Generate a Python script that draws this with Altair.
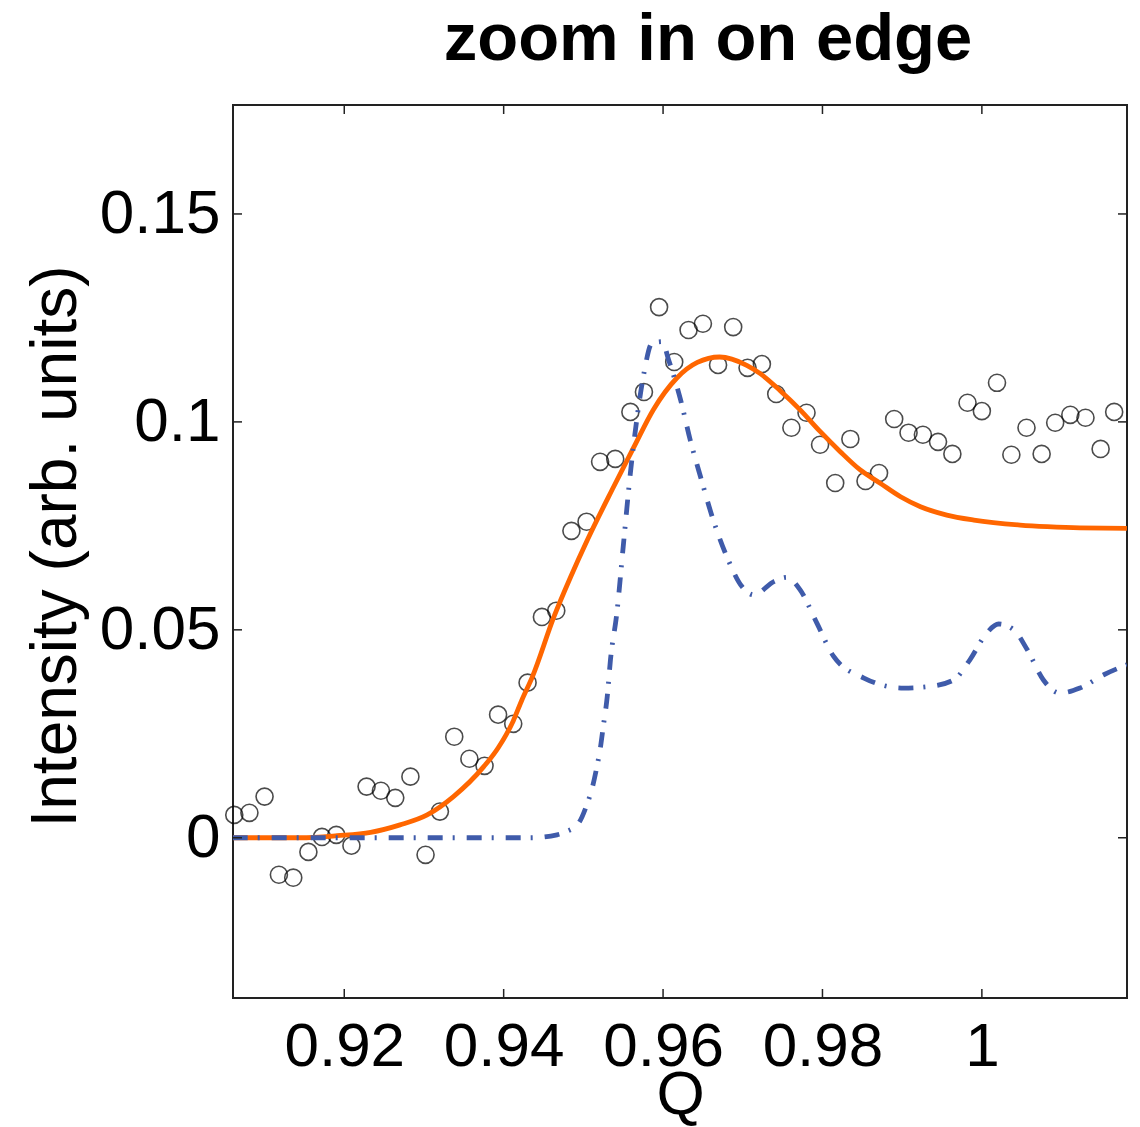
import altair as alt
import pandas as pd

# measured data (open circles)
q_data = [0.9062, 0.9081, 0.9100, 0.9118, 0.9136, 0.9155, 0.9172, 0.9190, 0.9209, 0.9228,
          0.9246, 0.9264, 0.9283, 0.9302, 0.9320, 0.9338, 0.9357, 0.9376, 0.9393, 0.9412,
          0.9430, 0.9448, 0.9466, 0.9485, 0.9504, 0.9521, 0.9540, 0.9559, 0.9576, 0.9595,
          0.9614, 0.9632, 0.9650, 0.9669, 0.9688, 0.9706, 0.9724, 0.9742, 0.9761, 0.9780,
          0.9797, 0.9816, 0.9835, 0.9854, 0.9871, 0.9890, 0.9908, 0.9926, 0.9945, 0.9963,
          0.9982, 1.0000, 1.0019, 1.0037, 1.0056, 1.0075, 1.0092, 1.0111, 1.0130, 1.0149,
          1.0166]
i_data = [0.0055, 0.0060, 0.0099, -0.0089, -0.0096, -0.0034, 0.0002, 0.0007, -0.0019, 0.0123,
          0.0113, 0.0096, 0.0147, -0.0041, 0.0063, 0.0243, 0.0190, 0.0173, 0.0296, 0.0274,
          0.0373, 0.0531, 0.0546, 0.0738, 0.0760, 0.0904, 0.0911, 0.1024, 0.1072, 0.1276,
          0.1144, 0.1221, 0.1236, 0.1137, 0.1228, 0.1130, 0.1139, 0.1067, 0.0986, 0.1022,
          0.0945, 0.0853, 0.0959, 0.0858, 0.0877, 0.1007, 0.0974, 0.0969, 0.0952, 0.0923,
          0.1046, 0.1026, 0.1094, 0.0921, 0.0986, 0.0923, 0.0998, 0.1017, 0.1010, 0.0935,
          0.1024]

# fitted curve (orange solid)
fit_q = [0.9060, 0.9145, 0.9191, 0.9233, 0.9270, 0.9304, 0.9337, 0.9375, 0.9393, 0.9412,
         0.9423, 0.9436, 0.9463, 0.9484, 0.9505, 0.9538, 0.9563, 0.9588, 0.9617, 0.9643,
         0.9671, 0.9705, 0.9722, 0.9747, 0.9772, 0.9797, 0.9822, 0.9847, 0.9872, 0.9898,
         0.9923, 0.9956, 0.9990, 1.0048, 1.0082, 1.0123, 1.0182]
fit_i = [0.0, 0.0, 0.0005, 0.0013, 0.0031, 0.0055, 0.0099, 0.0171, 0.0216, 0.0281,
         0.0332, 0.0387, 0.0531, 0.0627, 0.0716, 0.0844, 0.0938, 0.1030, 0.1105, 0.1143,
         0.1156, 0.1136, 0.1116, 0.1075, 0.1029, 0.0977, 0.0929, 0.0885, 0.0853, 0.0820,
         0.0796, 0.0776, 0.0764, 0.0752, 0.0748, 0.0745, 0.0744]

# model curve (blue dash-dot)
mod_q = [0.9060, 0.9433, 0.9467, 0.9479, 0.9494, 0.9505, 0.9511, 0.9517, 0.9521, 0.9525,
         0.9530, 0.9534, 0.9542, 0.9550, 0.9559, 0.9567, 0.9576, 0.9586, 0.9599, 0.9607,
         0.9622, 0.9634, 0.9647, 0.9663, 0.9680, 0.9699, 0.9714, 0.9739, 0.9755, 0.9772,
         0.9793, 0.9814, 0.9852, 0.9902, 0.9935, 0.9965, 0.9985, 1.0006, 1.0021, 1.0040,
         1.0057, 1.0077, 1.0098, 1.0123, 1.0153, 1.0182]
mod_i = [0.0, 0.0, 0.0007, 0.0015, 0.0035, 0.0083, 0.0119, 0.0171, 0.0212, 0.0268,
         0.0340, 0.0428, 0.0540, 0.0700, 0.0877, 0.1005, 0.1117, 0.1189, 0.1193, 0.1149,
         0.1053, 0.0957, 0.0868, 0.0764, 0.0676, 0.0604, 0.0584, 0.0616, 0.0626, 0.0596,
         0.0516, 0.0436, 0.0384, 0.0360, 0.0364, 0.0380, 0.0428, 0.0492, 0.0514, 0.0500,
         0.0452, 0.0380, 0.0348, 0.0360, 0.0392, 0.0416]

x_ticks = [0.92, 0.94, 0.96, 0.98, 1.0]
y_ticks = [0.0, 0.05, 0.1, 0.15]

W, H = 894, 893
FONT = "Liberation Sans"

xs = alt.Scale(domain=[0.90604, 1.01821], nice=False, zero=False)
ys = alt.Scale(domain=[-0.03853, 0.1762], nice=False, zero=False)

pts_df = pd.DataFrame({"q": q_data, "i": i_data})
fit_df = pd.DataFrame({"q": fit_q, "i": fit_i})
mod_df = pd.DataFrame({"q": mod_q, "i": mod_i})
xt_df = pd.DataFrame({"q": x_ticks})
yt_df = pd.DataFrame({"i": y_ticks})

x_axis = alt.Axis(values=x_ticks, format="~g", title="Q", grid=False, ticks=False, tickSize=0,
                  domain=False, labelFont=FONT, labelFontSize=62, labelColor="black",
                  labelPadding=18, labelOverlap=False, titleFont=FONT, titleFontSize=62,
                  titleFontWeight="normal", titleColor="black", titleX=447, titleY=115,
                  titleBaseline="alphabetic", titleAlign="center")
y_axis = alt.Axis(values=y_ticks, format="~g", title="Intensity (arb. units)", grid=False,
                  ticks=False, tickSize=0, domain=False, labelFont=FONT, labelFontSize=62,
                  labelColor="black", labelPadding=13, labelOverlap=False, titleFont=FONT,
                  titleFontSize=64, titleFontWeight="normal", titleColor="black",
                  titleX=-158, titleY=441, titleBaseline="alphabetic", titleAlign="center",
                  titleAngle=270)

X = alt.X("q:Q", scale=xs, axis=x_axis)
Y = alt.Y("i:Q", scale=ys, axis=y_axis)

points = alt.Chart(pts_df).mark_point(shape="circle", filled=False, color="black",
                                      strokeWidth=1.6, size=290, clip=False).encode(x=X, y=Y)

fit_line = alt.Chart(fit_df).mark_line(color="#FF6600", strokeWidth=4.8,
                                       interpolate="monotone", clip=True).encode(x=X, y=Y)

mod_line = alt.Chart(mod_df).mark_line(color="#3F5BAA", strokeWidth=4.8,
                                       strokeDash=[15, 10, 2, 12],
                                       interpolate="monotone", clip=True).encode(x=X, y=Y)

tick_color = "#222222"
xt_bottom = alt.Chart(xt_df).mark_rule(color=tick_color, strokeWidth=1.5).encode(
    x=X, y=alt.value(H), y2=alt.value(H - 9))
xt_top = alt.Chart(xt_df).mark_rule(color=tick_color, strokeWidth=1.5).encode(
    x=X, y=alt.value(0), y2=alt.value(9))
yt_left = alt.Chart(yt_df).mark_rule(color=tick_color, strokeWidth=1.5).encode(
    y=Y, x=alt.value(0), x2=alt.value(9))
yt_right = alt.Chart(yt_df).mark_rule(color=tick_color, strokeWidth=1.5).encode(
    y=Y, x=alt.value(W), x2=alt.value(W - 9))

chart = alt.layer(points, fit_line, mod_line, xt_bottom, xt_top, yt_left, yt_right).properties(
    width=W, height=H,
    background="white",
    autosize=alt.AutoSizeParams(type="none"),
    padding={"left": 233, "top": 105, "right": 13, "bottom": 129},
    title=alt.TitleParams("zoom in on edge", font=FONT, fontSize=67, fontWeight="bold",
                          color="black", anchor="middle", frame="group",
                          baseline="alphabetic", offset=-23, dx=28),
).configure_view(stroke="#222222", strokeWidth=2)

chart.save("out.html", embed_options={"renderer": "svg", "actions": False})
